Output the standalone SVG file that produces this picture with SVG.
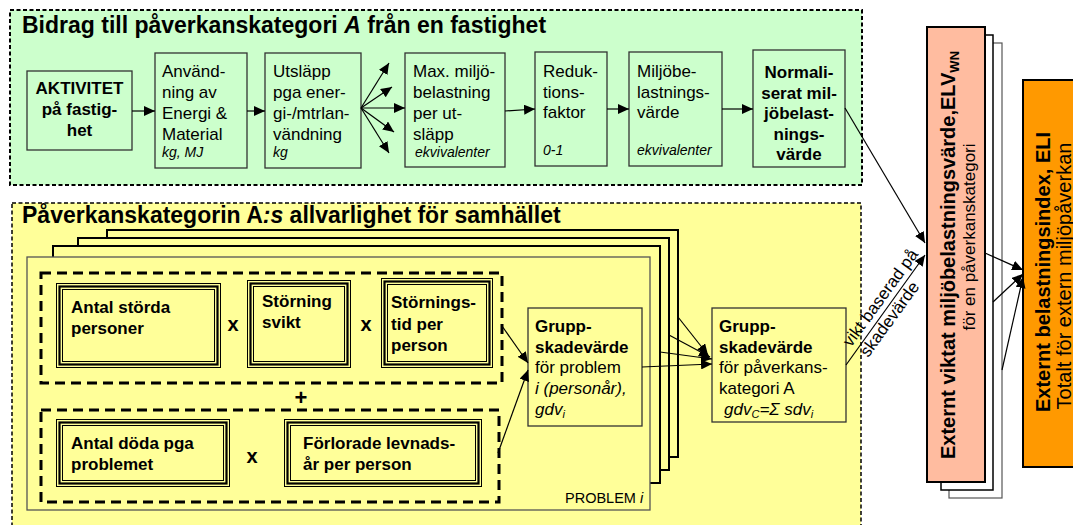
<svg xmlns="http://www.w3.org/2000/svg" width="1073" height="525" viewBox="0 0 1073 525">
<style>
text{font-family:"Liberation Sans",Arial,sans-serif;fill:#000}
.b{font-weight:bold}
.i{font-style:italic}
.t17{font-size:17px}
.t14{font-size:14px}
.title{font-size:23px;font-weight:bold}
.gbox{fill:#CCFFCC;stroke:#333;stroke-width:1.3}
.ybox{fill:#FFFF99;stroke:#333;stroke-width:1.3}
.stack{fill:#FFFF99;stroke:#000;stroke-width:2}
.tr1{fill:none;stroke:#000;stroke-width:1}
.tr2{fill:none;stroke:#000;stroke-width:2.2}
.grp{fill:none;stroke:#000;stroke-width:3;stroke-dasharray:10 6}
.ln{fill:none;stroke:#000;stroke-width:1.2}
</style>
<defs>
<marker id="ah" markerUnits="userSpaceOnUse" markerWidth="12" markerHeight="10" refX="11" refY="5" orient="auto">
<path d="M0,0 L11,5 L0,10 z" fill="#000"/>
</marker>
</defs>

<!-- panels -->
<g id="panel-top">
<rect x="10" y="10" width="852" height="175" fill="#CCFFCC" stroke="#000" stroke-width="2" stroke-dasharray="4 2.5"/>
<text class="title" x="22" y="33">Bidrag till påverkanskategori <tspan font-style="italic">A</tspan> från en fastighet</text>
</g>
<g id="panel-bottom">
<rect x="12" y="203" width="849" height="330" fill="#FFFF99" stroke="#000" stroke-width="1.5" stroke-dasharray="4 2.5"/>
<text class="title" x="22" y="223" font-size="23.3">Påverkanskategorin A<tspan font-style="italic">:s</tspan> allvarlighet för samhället</text>
</g>

<!-- top row nodes -->
<g id="n-aktivitet">
<rect class="gbox" x="27" y="71" width="105" height="79"/>
<text class="b t17" text-anchor="middle"><tspan x="79.5" y="94">AKTIVITET</tspan><tspan x="79.5" y="115">på fastig-</tspan><tspan x="79.5" y="136">het</tspan></text>
</g>
<g id="n-anvandning">
<rect class="gbox" x="155" y="53" width="92" height="115"/>
<text class="t17"><tspan x="162" y="77">Använd-</tspan><tspan x="162" y="98">ning av</tspan><tspan x="162" y="119">Energi &amp;</tspan><tspan x="162" y="140">Material</tspan></text>
<text class="t14 i" x="162" y="157">kg, MJ</text>
</g>
<g id="n-utslapp">
<rect class="gbox" x="265" y="53" width="96" height="115"/>
<text class="t17"><tspan x="273" y="77">Utsläpp</tspan><tspan x="273" y="98">pga ener-</tspan><tspan x="273" y="119">gi-/mtrlan-</tspan><tspan x="273" y="140">vändning</tspan></text>
<text class="t14 i" x="273" y="157">kg</text>
</g>
<g id="n-max">
<rect class="gbox" x="405" y="53" width="100" height="114"/>
<text class="t17"><tspan x="413" y="77">Max. miljö-</tspan><tspan x="413" y="98">belastning</tspan><tspan x="413" y="119">per ut-</tspan><tspan x="413" y="140">släpp</tspan></text>
<text class="t14 i" x="415" y="157">ekvivalenter</text>
</g>
<g id="n-reduktion">
<rect class="gbox" x="535" y="52" width="72" height="114"/>
<text class="t17"><tspan x="543" y="77">Reduk-</tspan><tspan x="543" y="98">tions-</tspan><tspan x="543" y="118">faktor</tspan></text>
<text class="t14 i" x="543" y="155">0-1</text>
</g>
<g id="n-miljobe">
<rect class="gbox" x="629" y="52" width="93" height="114"/>
<text class="t17"><tspan x="637" y="77">Miljöbe-</tspan><tspan x="637" y="98">lastnings-</tspan><tspan x="637" y="118">värde</tspan></text>
<text class="t14 i" x="637" y="155">ekvivalenter</text>
</g>
<g id="n-normaliserat">
<rect class="gbox" x="753" y="50" width="92" height="117"/>
<text class="b t17" text-anchor="middle"><tspan x="799" y="78">Normali-</tspan><tspan x="799" y="98.5">serat mil-</tspan><tspan x="799" y="119">jöbelast-</tspan><tspan x="799" y="139.5">nings-</tspan><tspan x="799" y="160">värde</tspan></text>
</g>

<!-- bottom section: stacked problem frames -->
<g id="n-problem-stack">
<rect class="stack" x="107" y="230" width="571" height="227"/>
<rect class="stack" x="78" y="238" width="591" height="232"/>
<rect class="stack" x="53" y="246" width="607" height="237"/>
<rect x="27" y="257" width="623" height="253" fill="#FFFF99" stroke="#555" stroke-width="1.3"/>
<text x="565" y="503" font-size="14.5">PROBLEM <tspan font-style="italic">i</tspan></text>
</g>
<g id="group-upper">
<rect class="grp" x="41" y="273" width="461" height="110"/>
</g>
<g id="group-lower">
<rect class="grp" x="41" y="410" width="458" height="92"/>
</g>
<g id="n-antal-storda">
<rect class="tr1" x="56.5" y="283.5" width="164" height="84"/>
<rect class="tr2" x="59.5" y="286.5" width="158" height="78"/>
<rect class="tr1" x="62.5" y="289.5" width="152" height="72"/>
<text class="b t17"><tspan x="71" y="313">Antal störda</tspan><tspan x="71" y="334">personer</tspan></text>
</g>
<g id="n-storning-svikt">
<rect class="tr1" x="247.5" y="280.5" width="103" height="87"/>
<rect class="tr2" x="250.5" y="283.5" width="97" height="81"/>
<rect class="tr1" x="253.5" y="286.5" width="91" height="75"/>
<text class="b t17"><tspan x="262" y="307">Störning</tspan><tspan x="262" y="328">svikt</tspan></text>
</g>
<g id="n-storningstid">
<rect class="tr1" x="381.5" y="278.5" width="111" height="89"/>
<rect class="tr2" x="384.5" y="281.5" width="105" height="83"/>
<rect class="tr1" x="387.5" y="284.5" width="99" height="77"/>
<text class="b t17"><tspan x="391" y="308">Störnings-</tspan><tspan x="391" y="330">tid per</tspan><tspan x="391" y="351">person</tspan></text>
</g>
<g id="n-antal-doda">
<rect class="tr1" x="56.5" y="419.5" width="173" height="67"/>
<rect class="tr2" x="59.5" y="422.5" width="167" height="61"/>
<rect class="tr1" x="62.5" y="425.5" width="161" height="55"/>
<text class="b t17"><tspan x="71" y="449">Antal döda pga</tspan><tspan x="71" y="470">problemet</tspan></text>
</g>
<g id="n-forlorade">
<rect class="tr1" x="284.5" y="419.5" width="197" height="67"/>
<rect class="tr2" x="287.5" y="422.5" width="191" height="61"/>
<rect class="tr1" x="290.5" y="425.5" width="185" height="55"/>
<text class="b t17"><tspan x="303" y="449">Förlorade levnads-</tspan><tspan x="303" y="470">år per person</tspan></text>
</g>
<g id="operators">
<text class="b" font-size="20" text-anchor="middle" x="233" y="331">x</text>
<text class="b" font-size="20" text-anchor="middle" x="366" y="331">x</text>
<text class="b" font-size="20" text-anchor="middle" x="252" y="463">x</text>
<text class="b" font-size="22" text-anchor="middle" x="301" y="405">+</text>
</g>
<g id="n-grupp-problem">
<rect class="ybox" x="528" y="308" width="114" height="118"/>
<text class="t17"><tspan class="b" x="535" y="332">Grupp-</tspan><tspan class="b" x="535" y="353">skadevärde</tspan><tspan x="535" y="373">för problem</tspan><tspan class="i" x="535" y="394">i (personår),</tspan><tspan class="i" x="535" y="415">gdv</tspan><tspan class="i" font-size="11" dy="3">i</tspan></text>
</g>
<g id="n-grupp-kategori">
<rect class="ybox" x="712" y="308" width="134" height="114"/>
<text class="t17"><tspan class="b" x="719" y="332">Grupp-</tspan><tspan class="b" x="719" y="353">skadevärde</tspan><tspan x="719" y="373">för påverkans-</tspan><tspan x="719" y="394">kategori A</tspan><tspan class="i" x="724" y="415">gdv</tspan><tspan class="i" font-size="11" dy="3">C</tspan><tspan class="i" dy="-3">=Σ sdv</tspan><tspan class="i" font-size="11" dy="3">i</tspan></text>
</g>

<!-- right side -->
<g id="n-elv">
<rect x="949" y="43" width="53" height="455" fill="#FFFFFF" stroke="#555" stroke-width="1.2"/>
<rect x="941" y="35" width="52" height="455" fill="#FFFFFF" stroke="#000" stroke-width="1.5"/>
<rect x="927" y="27" width="58" height="455" fill="#FFBCA0" stroke="#000" stroke-width="2"/>
<text class="b" font-size="20" text-anchor="middle" transform="translate(955,255) rotate(-90)">Externt viktat miljöbelastningsvärde,ELV<tspan font-size="13" dy="4">WN</tspan></text>
<text font-size="17" text-anchor="middle" transform="translate(975,237) rotate(-90)">för en påverkanskategori</text>
</g>
<g id="n-eli">
<rect x="1023" y="80" width="60" height="387" fill="#FF9900" stroke="#000" stroke-width="2"/>
<text class="b" font-size="20" text-anchor="middle" transform="translate(1050,272) rotate(-90)">Externt belastningsindex, ELI</text>
<text font-size="20" text-anchor="middle" transform="translate(1071,276) rotate(-90)">Totalt för extern miljöpåverkan</text>
</g>

<!-- connectors -->
<g id="connectors" class="conn">
<line class="ln" x1="132" y1="111" x2="155" y2="111" marker-end="url(#ah)"/>
<line class="ln" x1="247" y1="111" x2="265" y2="111" marker-end="url(#ah)"/>
<line class="ln" x1="361" y1="108" x2="389" y2="63" marker-end="url(#ah)"/>
<line class="ln" x1="361" y1="108" x2="392" y2="87" marker-end="url(#ah)"/>
<line class="ln" x1="361" y1="108" x2="405" y2="108" marker-end="url(#ah)"/>
<line class="ln" x1="361" y1="108" x2="394" y2="132" marker-end="url(#ah)"/>
<line class="ln" x1="361" y1="108" x2="389" y2="153" marker-end="url(#ah)"/>
<line class="ln" x1="505" y1="111" x2="535" y2="109" marker-end="url(#ah)"/>
<line class="ln" x1="607" y1="109" x2="629" y2="109" marker-end="url(#ah)"/>
<line class="ln" x1="722" y1="109" x2="753" y2="109" marker-end="url(#ah)"/>
<line class="ln" x1="845" y1="108" x2="925" y2="243" marker-end="url(#ah)"/>
<line class="ln" x1="846" y1="365" x2="925" y2="255" marker-end="url(#ah)"/>
<line class="ln" x1="502" y1="326" x2="528" y2="363" marker-end="url(#ah)"/>
<line class="ln" x1="498" y1="453" x2="528" y2="370" marker-end="url(#ah)"/>
<line class="ln" x1="642" y1="367" x2="712" y2="364" marker-end="url(#ah)"/>
<line class="ln" x1="660" y1="352" x2="712" y2="359" marker-end="url(#ah)"/>
<line class="ln" x1="669" y1="335" x2="710" y2="357" marker-end="url(#ah)"/>
<line class="ln" x1="678" y1="317" x2="708" y2="355" marker-end="url(#ah)"/>
<line class="ln" x1="985" y1="253" x2="1023" y2="270" marker-end="url(#ah)"/>
<line class="ln" x1="993" y1="302" x2="1023" y2="274" marker-end="url(#ah)"/>
<line class="ln" x1="1002" y1="370" x2="1023" y2="277" marker-end="url(#ah)"/>
<text font-size="17" text-anchor="middle" transform="translate(885,301) rotate(-54)"><tspan x="0" y="0">vikt baserad på</tspan><tspan x="-12" y="20">skadevärde</tspan></text>
</g>
</svg>
